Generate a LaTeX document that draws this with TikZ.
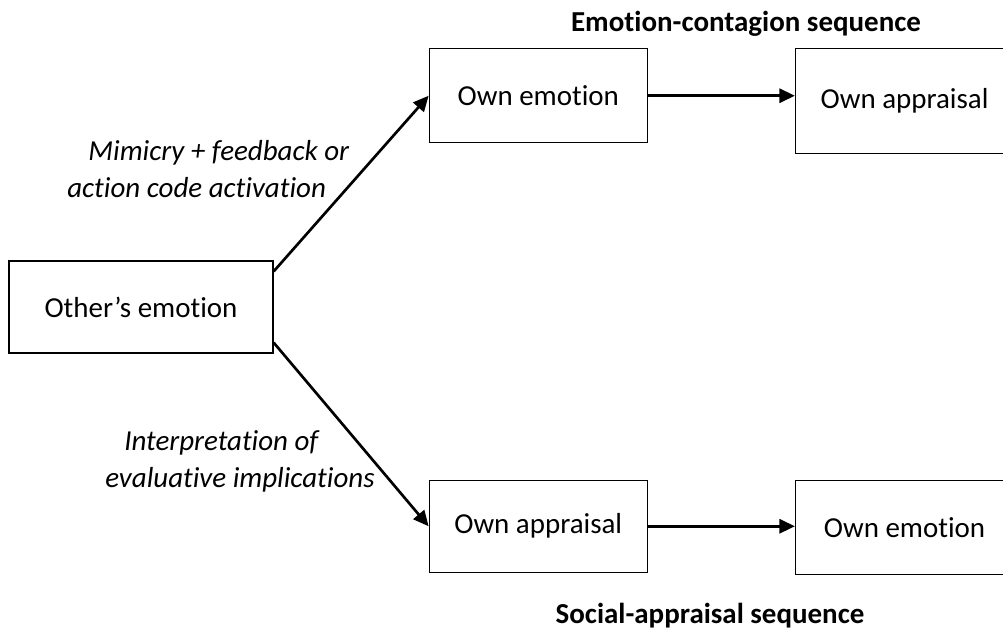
\documentclass[tikz,border=0pt]{standalone}
\usepackage{fontspec}
\setmainfont{Carlito}[Ligatures={TeX,NoCommon}]
\usetikzlibrary{positioning,arrows.meta}

\newcommand{\diagfont}{\fontsize{20.6}{26.7}\selectfont}

\tikzset{
  box/.style={draw, rectangle, line width=0.9pt, align=center, inner sep=0pt, font=\diagfont},
  seqtitle/.style={inner sep=0pt, font=\diagfont\bfseries},
  linklabel/.style={inner sep=0pt, align=left, anchor=north west, font=\diagfont\itshape},
  flow/.style={-{Triangle[length=11pt,width=10pt]}, line width=1.9pt},
}

\begin{document}
\begin{tikzpicture}
    \useasboundingbox (0,0) rectangle (25.075,-15.9);

    \node (other) [box, minimum width=6.6cm, minimum height=2.3cm] at (3.525,-7.675) {Other’s emotion};
    \node (emoA) [box, minimum width=5.45cm, minimum height=2.35cm, above right=2.925cm and 3.875cm of other] {Own emotion};
    \node (appA) [box, minimum width=5.45cm, minimum height=2.625cm, right=3.675cm of emoA.north east, anchor=north west] {Own appraisal};
    \node (appB) [box, minimum width=5.45cm, minimum height=2.3cm, below right=3.15cm and 3.875cm of other] {Own appraisal};
    \node (emoB) [box, minimum width=5.45cm, minimum height=2.35cm, right=3.675cm of appB.north east, anchor=north west] {Own emotion};

    \node (titleA) [seqtitle] at (18.65,-0.6) {Emotion-contagion sequence};
    \node (titleB) [seqtitle] at (17.75,-15.4) {Social-appraisal sequence};

    \node (mimicry) [linklabel] at (1.675,-3.5) {\hspace*{15pt}Mimicry + feedback or\\action code activation};
    \node (interp) [linklabel] at (2.625,-10.75) {\hspace*{13.5pt}Interpretation of\\evaluative implications};

    \draw[flow] (other.15) -- (emoA.west);
    \draw[flow] (other.-15) -- (appB.west);
    \draw[flow] (emoA.east) -- (emoA.east -| appA.west);
    \draw[flow] (appB.east) -- (appB.east -| emoB.west);
\end{tikzpicture}
\end{document}
